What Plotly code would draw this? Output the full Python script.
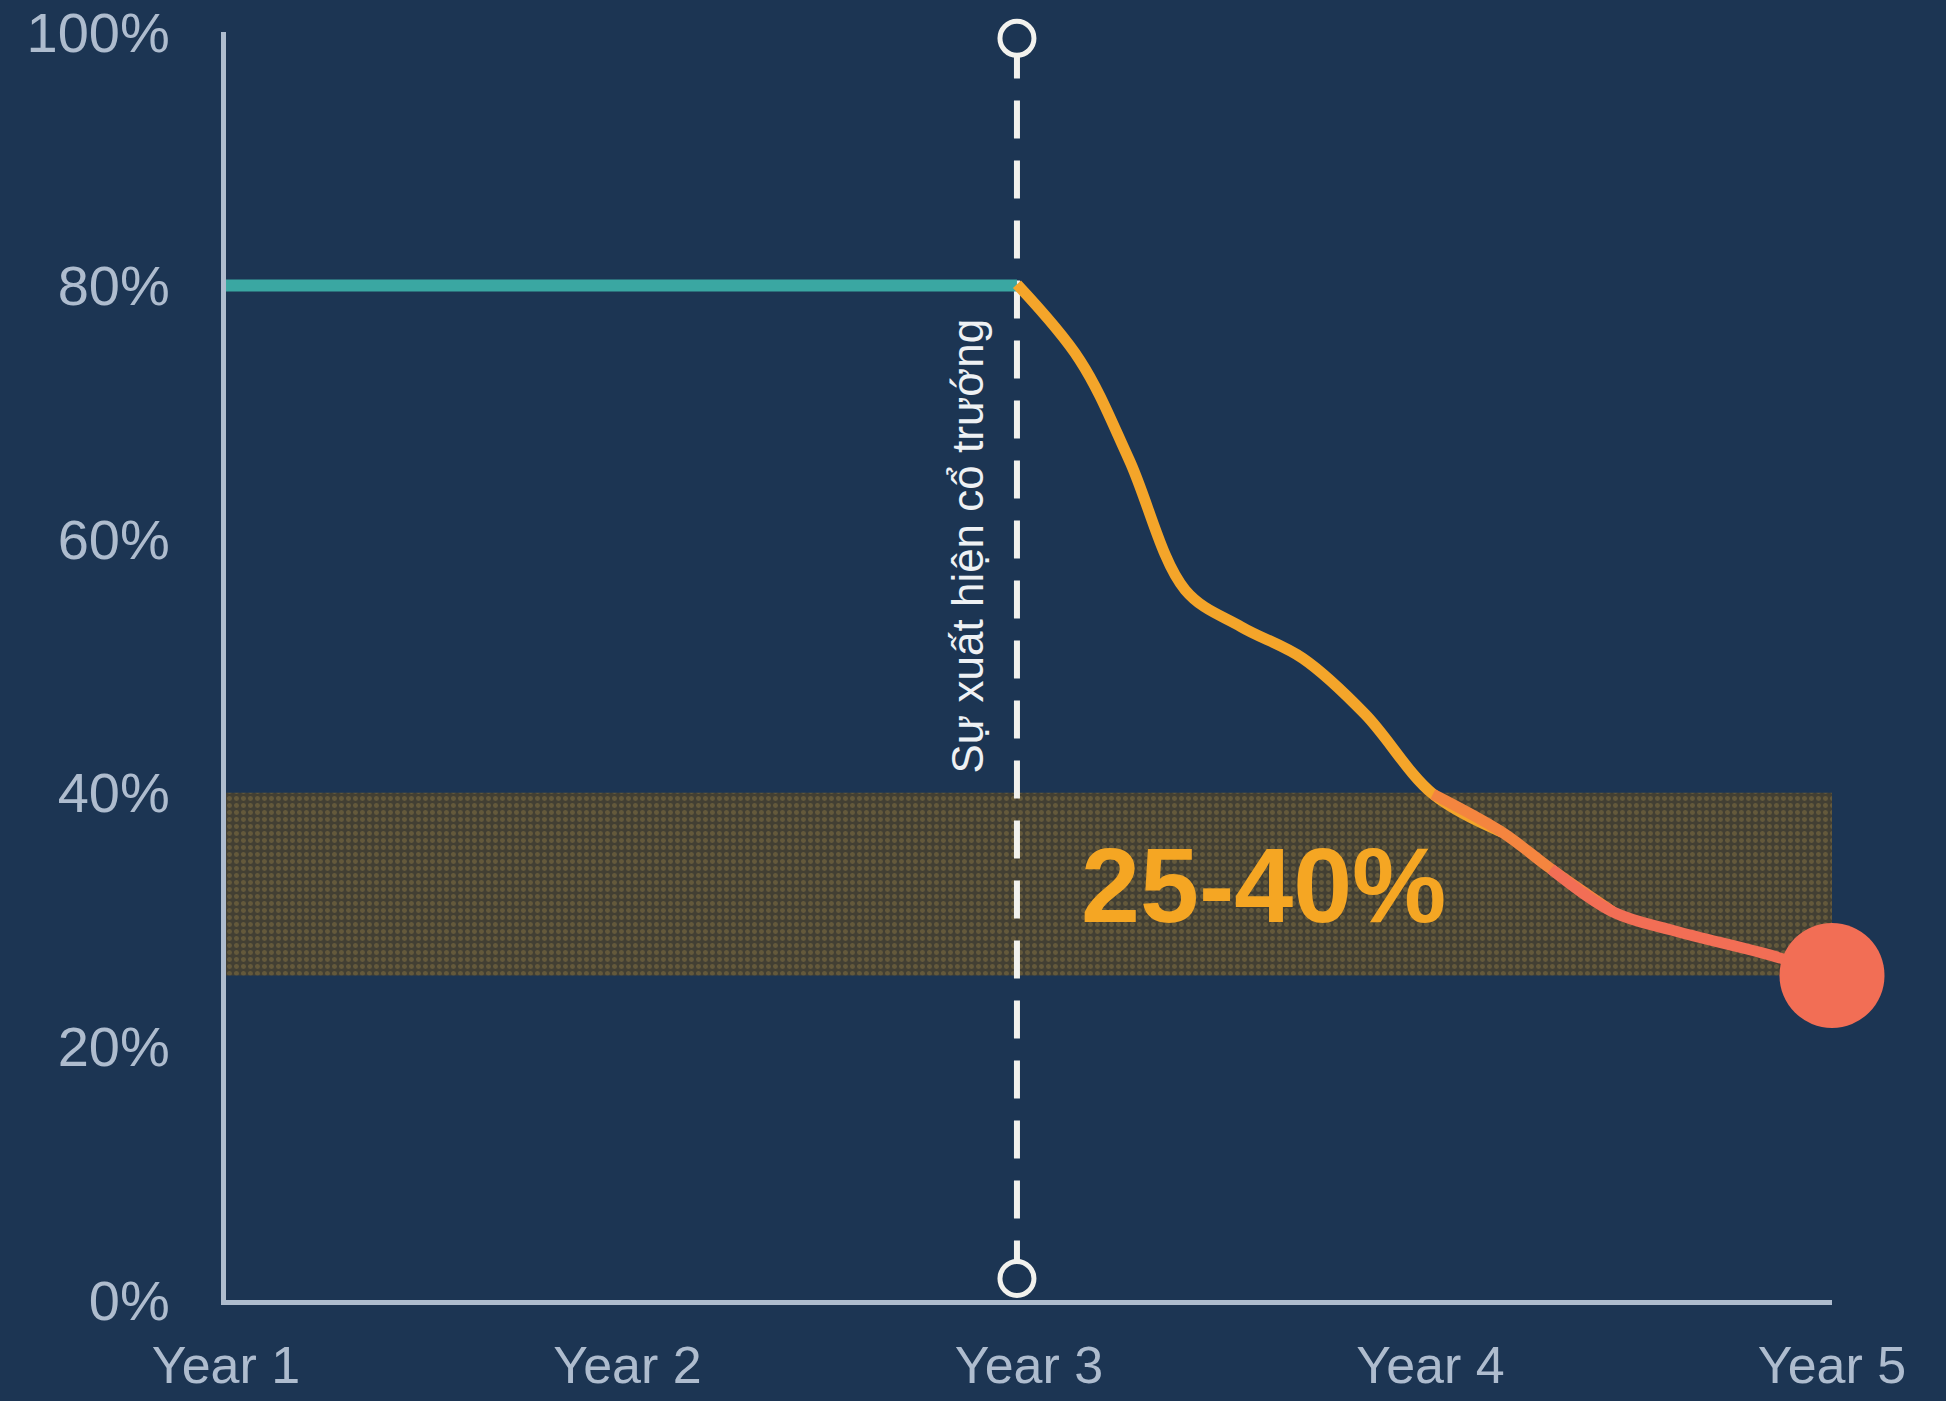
import plotly.graph_objects as go

# ---- data ----
years = [1, 2, 3, 4, 5]
year_labels = ["Year 1", "Year 2", "Year 3", "Year 4", "Year 5"]
y_ticks = [0, 20, 40, 60, 80, 100]
y_tick_labels = ["0%", "20%", "40%", "60%", "80%", "100%"]

onset_x = 2.97  # "Sự xuất hiện cổ trướng"
baseline_x = [1, 2.97]
baseline_y = [80, 80]

decline_x = [2.97, 3.127, 3.249, 3.389, 3.528, 3.682, 3.837, 4.006, 4.178, 4.300, 4.455, 4.609, 4.857, 5.0]
decline_y = [80.1, 74.1, 66.3, 56.0, 53.1, 50.6, 46.2, 39.9, 36.9, 34.0, 30.6, 29.1, 27.1, 25.6]

band_low, band_high = 25.6, 40
band_label = "25-40%"
onset_label = "Sự xuất hiện cổ trướng"

BG = "#1c3553"
AXIS = "#aebcce"
TEAL = "#3aa7a2"
ORANGE = "#f4a52a"
MID = "#f4853f"
CORAL = "#f26e55"
FONT = "Liberation Sans"

fig = go.Figure()

# band
fig.add_trace(go.Scatter(
    x=[1, 5, 5, 1, 1], y=[band_low, band_low, band_high, band_high, band_low],
    fill="toself", mode="none", fillcolor="#4a4530",
    fillpattern=dict(shape=".", fgcolor="#857443", bgcolor="#423f33", size=7, solidity=0.4),
    hoverinfo="skip", showlegend=False))

# dashed vertical onset line
fig.add_trace(go.Scatter(
    x=[onset_x, onset_x], y=[1.7, 99.5], mode="lines",
    line=dict(color="#f2f2ee", width=6, dash="38px,22px"),
    hoverinfo="skip", showlegend=False))

# baseline teal
fig.add_trace(go.Scatter(
    x=baseline_x, y=baseline_y, mode="lines",
    line=dict(color=TEAL, width=12), showlegend=False))

# decline curve with colour shift towards the end
fig.add_trace(go.Scatter(
    x=decline_x[:9], y=decline_y[:9], mode="lines",
    line=dict(color=ORANGE, width=11, shape="spline", smoothing=1.0), showlegend=False))
fig.add_trace(go.Scatter(
    x=decline_x[7:11], y=decline_y[7:11], mode="lines",
    line=dict(color=MID, width=11, shape="spline", smoothing=1.0), showlegend=False))
fig.add_trace(go.Scatter(
    x=decline_x[9:], y=decline_y[9:], mode="lines",
    line=dict(color=CORAL, width=11, shape="spline", smoothing=1.0), showlegend=False))

# open circles on the dashed line
fig.add_trace(go.Scatter(
    x=[onset_x, onset_x], y=[1.7, 99.5], mode="markers",
    marker=dict(size=34, color=BG, line=dict(color="#f2f2ee", width=5)),
    cliponaxis=False, showlegend=False))

# end point
fig.add_trace(go.Scatter(
    x=[decline_x[-1]], y=[decline_y[-1]], mode="markers",
    marker=dict(size=105, color=CORAL),
    cliponaxis=False, showlegend=False))

fig.add_annotation(x=3.583, y=32.7, text="<b>" + band_label + "</b>", showarrow=False,
                   font=dict(family=FONT, size=106, color="#f5a623"))
fig.add_annotation(x=2.848, y=59.5, text=onset_label, showarrow=False, textangle=-90,
                   font=dict(family=FONT, size=44, color="#eef1f4"))

fig.update_layout(
    width=1946, height=1401,
    paper_bgcolor=BG, plot_bgcolor=BG,
    margin=dict(l=226, r=114, t=32, b=101),
    showlegend=False,
    font=dict(family=FONT, color=AXIS),
)
fig.update_xaxes(
    range=[1, 5], tickvals=years, ticktext=year_labels, automargin=False,
    showgrid=False, zeroline=False, showline=True, linecolor=AXIS, linewidth=5,
    tickfont=dict(size=52, color=AXIS), ticks="", ticklabelstandoff=16,
)
fig.update_yaxes(
    range=[0, 100], tickvals=y_ticks, ticktext=y_tick_labels, automargin=False,
    showgrid=False, zeroline=False, showline=True, linecolor=AXIS, linewidth=5,
    tickfont=dict(size=56, color=AXIS), ticks="", ticklabelstandoff=40,
)

fig.write_html("out.html")
